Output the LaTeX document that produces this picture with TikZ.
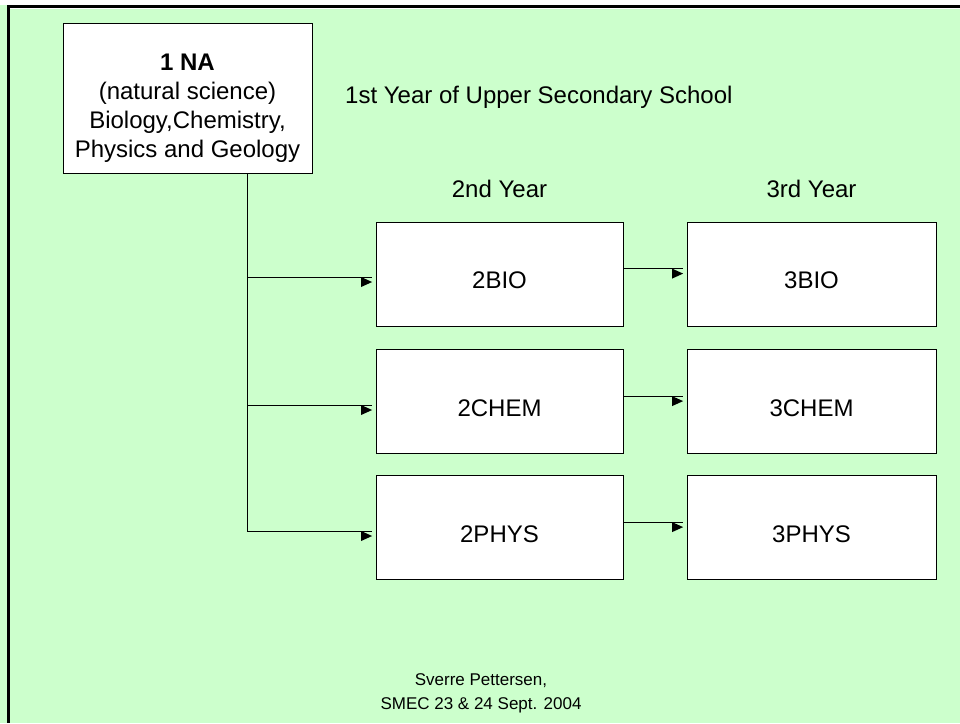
\documentclass[tikz,border=0pt]{standalone}
\usepackage{fontspec}
\setmainfont{Liberation Sans}
\usetikzlibrary{calc}
\definecolor{slidegreen}{HTML}{CCFFCC}

% connector from a start coordinate to the west side of a box,
% ending in a filled head that hangs below the line
\newcommand{\linkto}[2]{%
  \draw[conn] (#1) -- ($(#1 -| #2.west)+(-3.5,0)$) coordinate (tip-#2);
  \fill (tip-#2) ++(-11,0) -- ++(0,10) -- ++(11,-5) -- cycle;}

\begin{document}
\begin{tikzpicture}[x=1pt,y=-1pt,
  conn/.style={line width=1pt, black},
  box/.style={draw=black, line width=0.8pt, fill=white, inner sep=0pt,
    font=\fontsize{24}{29}\selectfont, text height=29pt, text depth=0pt},
  yearbox/.style={box, minimum width=247pt, minimum height=104pt},
  lastbox/.style={box, minimum width=249pt, minimum height=104pt},
  caption/.style={inner sep=0pt, font=\fontsize{24}{29}\selectfont}]

% slide background and frame
\useasboundingbox (0,0) rectangle (960,723);
\fill[slidegreen] (0,0) rectangle (960,723);
\fill[white] (0,0) rectangle (960,5);
\fill[black] (7,5) rectangle (960,8);
\fill[white] (10,8) rectangle (960,9.3);
\fill[black] (7.3,5) rectangle (10,723);

% first year
\node[draw=black, fill=white, line width=0.8pt, inner sep=0pt,
  minimum width=249pt, minimum height=150pt,
  font=\fontsize{24}{29}\selectfont] (na) at (187.5,98)
  {\parbox[c][150pt][t]{249pt}{\centering\rule{0pt}{47pt}\textbf{1 NA}\\
   (natural science)\\Biology,Chemistry,\\Physics and Geology}};

\node[caption, anchor=base west] (y1) at (345,103) {1st Year of Upper Secondary School};
\node[caption, anchor=base] (y2) at (499.5,197) {2nd Year};
\node[caption, anchor=base] (y3) at (811.5,197) {3rd Year};

% second and third year courses
\node[yearbox] (bio2)  at (499.5,274)   {2BIO};
\node[yearbox] (chem2) at (499.5,401.5) {2CHEM};
\node[yearbox] (phys2) at (499.5,527.5) {2PHYS};
\node[lastbox] (bio3)  at (811.5,274)   {3BIO};
\node[lastbox] (chem3) at (811.5,401.5) {3CHEM};
\node[lastbox] (phys3) at (811.5,527.5) {3PHYS};

% trunk from the first-year box and its branches
\coordinate (t0) at (247,173);
\coordinate (j1) at (247,277);
\coordinate (j2) at (247,405);
\coordinate (j3) at (247,531);
\draw[conn] (t0) -- (j3);
\linkto{j1}{bio2}
\linkto{j2}{chem2}
\linkto{j3}{phys2}

% second year to third year
\coordinate (k1) at ($(bio2.north east)+(0,47)$);
\coordinate (k2) at ($(chem2.north east)+(0,47)$);
\coordinate (k3) at ($(phys2.north east)+(0,47)$);
\linkto{k1}{bio3}
\linkto{k2}{chem3}
\linkto{k3}{phys3}

% credit line
\node[inner sep=0pt, align=center, anchor=north,
  font=\fontsize{17}{24}\selectfont] (credit) at (481,673.8)
  {Sverre Pettersen,\\SMEC 23 \& 24 Sept. 2004};
\end{tikzpicture}
\end{document}
